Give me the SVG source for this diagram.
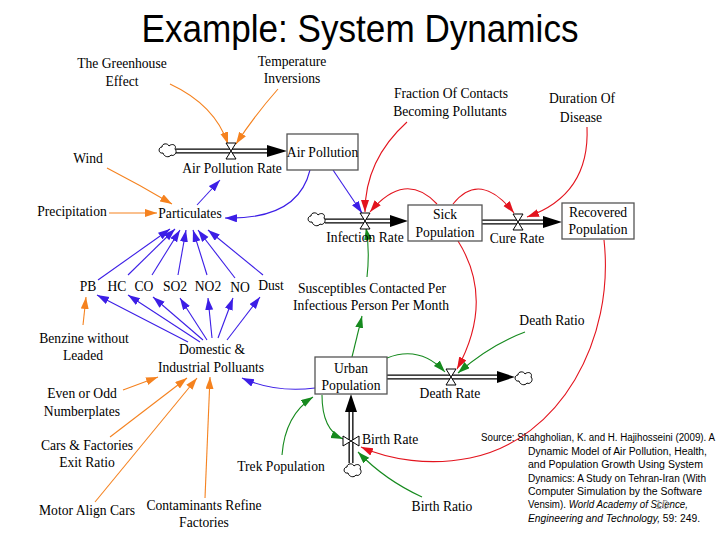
<svg xmlns="http://www.w3.org/2000/svg" width="720" height="540" viewBox="0 0 720 540">
<defs>
<style>
.t{font-family:"Liberation Serif","Times New Roman",serif;font-size:13.6px;text-anchor:middle;fill:#000}
.ttl{font-family:"Liberation Sans",Arial,sans-serif;font-size:38px;text-anchor:middle;fill:#000}
.src{font-family:"Liberation Sans",Arial,sans-serif;font-size:10px;fill:#000}
.o{fill:none;stroke:#f5821f;stroke-width:1.1;marker-end:url(#mo)}
.b{fill:none;stroke:#3c1ee6;stroke-width:1.1;marker-end:url(#mb)}
.r{fill:none;stroke:#e3141e;stroke-width:1.1;marker-end:url(#mr)}
.g{fill:none;stroke:#168a1e;stroke-width:1.1;marker-end:url(#mg)}
.box{fill:#fff;stroke:#555;stroke-width:1.3}
.po{fill:none;stroke:#000;stroke-width:5}
.pi{fill:none;stroke:#fff;stroke-width:2.4}
.valve{fill:#fff;stroke:#000;stroke-width:1}
.cloud{fill:#fff;stroke:#000;stroke-width:1}
</style>
<marker id="mo" markerUnits="userSpaceOnUse" markerWidth="13" markerHeight="9" refX="12" refY="4" orient="auto"><path d="M0,0 L12,4 L0,8 Z" fill="#f5821f"/></marker>
<marker id="mb" markerUnits="userSpaceOnUse" markerWidth="13" markerHeight="9" refX="12" refY="4" orient="auto"><path d="M0,0 L12,4 L0,8 Z" fill="#3c1ee6"/></marker>
<marker id="mr" markerUnits="userSpaceOnUse" markerWidth="13" markerHeight="9" refX="12" refY="4" orient="auto"><path d="M0,0 L12,4 L0,8 Z" fill="#e3141e"/></marker>
<marker id="mg" markerUnits="userSpaceOnUse" markerWidth="13" markerHeight="9" refX="12" refY="4" orient="auto"><path d="M0,0 L12,4 L0,8 Z" fill="#168a1e"/></marker>
<path id="cl" d="M-5,3 C-10,4 -10,-3 -6,-3 C-6,-7 0,-7 1,-4 C4,-7 9,-5 7,-1 C10,2 6,7 3,5 C1,8 -4,7 -5,3 Z"/>
<path id="vv" d="M-5,-8 L5,-8 L-5,8 L5,8 Z"/>
</defs>
<rect width="720" height="540" fill="#fff"/>
<text class="ttl" x="360" y="42" textLength="437" lengthAdjust="spacingAndGlyphs">Example: System Dynamics</text>

<g id="connectors">
<path class="o" d="M170,84 Q215,105 228,144"/>
<path class="o" d="M278,89 Q255,115 236,144"/>
<path class="o" d="M107,168 Q140,185 172,204"/>
<path class="o" d="M109,213 L157,213"/>
<path class="o" d="M83,325 L86,297"/>
<path class="o" d="M123,390 L158,377"/>
<path class="o" d="M110,437 L187,378"/>
<path class="o" d="M95,502 L197,378"/>
<path class="o" d="M205,498 L210,377"/>
<path class="b" d="M197,205 L220,180"/>
<path class="b" d="M310,170 Q298,220 225,218"/>
<path class="b" d="M333,170 L362,213"/>
<path class="b" d="M98,280 L170,229"/>
<path class="b" d="M128,275 L175,229"/>
<path class="b" d="M152,275 L180,230"/>
<path class="b" d="M178,275 L186,230"/>
<path class="b" d="M207,275 L193,230"/>
<path class="b" d="M235,278 L198,230"/>
<path class="b" d="M263,275 L208,230"/>
<path class="b" d="M188,342 L97,295"/>
<path class="b" d="M200,342 L128,295"/>
<path class="b" d="M203,340 L153,297"/>
<path class="b" d="M207,340 L180,298"/>
<path class="b" d="M212,338 L208,298"/>
<path class="b" d="M218,338 L233,298"/>
<path class="b" d="M227,340 L260,297"/>
<path class="b" d="M315,388 Q275,393 242,378"/>
<path class="r" d="M407,122 Q365,160 365,212"/>
<path class="r" d="M437,204 Q405,170 370,212"/>
<path class="r" d="M453,204 Q480,170 514,213"/>
<path class="r" d="M587,127 Q590,195 527,217"/>
<path class="r" d="M458,241 Q495,300 457,369"/>
<path class="r" d="M604,240 C615,340 560,440 470,458 C430,466 390,460 361,447"/>
<path class="g" d="M367,277 Q370,250 366,228"/>
<path class="g" d="M352,357 L362,316"/>
<path class="g" d="M387,358 Q420,345 445,372"/>
<path class="g" d="M525,332 Q490,345 458,373"/>
<path class="g" d="M322,395 Q322,430 343,439"/>
<path class="g" d="M282,455 Q285,415 313,397"/>
<path class="g" d="M422,497 Q385,480 358,452"/>
</g>

<g id="pipes">
<path class="po" d="M176,151 L269,151"/><path class="pi" d="M176,151 L268,151"/>
<polygon points="267,145 287,151 267,157" fill="#000"/>
<path class="po" d="M325,221 L392,221"/><path class="pi" d="M325,221 L391,221"/>
<polygon points="390,215 408,221 390,227" fill="#000"/>
<path class="po" d="M482,222 L545,222"/><path class="pi" d="M482,222 L544,222"/>
<polygon points="543,216 562,222 543,228" fill="#000"/>
<path class="po" d="M387,377 L499,377"/><path class="pi" d="M387,377 L498,377"/>
<polygon points="497,371 515,377 497,383" fill="#000"/>
<path class="po" d="M351,463 L351,410"/><path class="pi" d="M351,463 L351,411"/>
<polygon points="345,412 351,394 357,412" fill="#000"/>
</g>

<g id="cloud-air"><use href="#cl" class="cloud" transform="translate(168,150)"/></g>
<g id="cloud-infection"><use href="#cl" class="cloud" transform="translate(317,219)"/></g>
<g id="cloud-death"><use href="#cl" class="cloud" transform="translate(524,378)"/></g>
<g id="cloud-birth"><use href="#cl" class="cloud" transform="translate(353,470)"/></g>

<g id="air-pollution-rate"><use href="#vv" class="valve" transform="translate(231,151)"/><text class="t" x="232" y="173">Air Pollution Rate</text></g>
<g id="infection-rate"><use href="#vv" class="valve" transform="translate(365,221)"/><text class="t" x="365" y="242">Infection Rate</text></g>
<g id="cure-rate"><use href="#vv" class="valve" transform="translate(518,222)"/><text class="t" x="517" y="243">Cure Rate</text></g>
<g id="death-rate"><use href="#vv" class="valve" transform="translate(451,377)"/><text class="t" x="450" y="398">Death Rate</text></g>
<g id="birth-rate"><use href="#vv" class="valve" transform="translate(351,441) rotate(90)"/><text class="t" x="362" y="444" style="text-anchor:start">Birth Rate</text></g>

<g id="air-pollution"><rect class="box" x="287" y="134" width="71" height="36"/><text class="t" x="322.5" y="157">Air Pollution</text></g>
<g id="sick-population"><rect class="box" x="408" y="205" width="74" height="36"/><text class="t" x="445" y="219">Sick</text><text class="t" x="445" y="237">Population</text></g>
<g id="recovered-population"><rect class="box" x="562" y="203" width="72" height="36"/><text class="t" x="598" y="217">Recovered</text><text class="t" x="598" y="234">Population</text></g>
<g id="urban-population"><rect class="box" x="315" y="357" width="72" height="37"/><text class="t" x="351" y="373">Urban</text><text class="t" x="351" y="390">Population</text></g>

<g id="greenhouse"><text class="t" x="122" y="68">The Greenhouse</text><text class="t" x="122" y="86">Effect</text></g>
<g id="temperature"><text class="t" x="292" y="66">Temperature</text><text class="t" x="292" y="83">Inversions</text></g>
<g id="wind"><text class="t" x="88" y="163">Wind</text></g>
<g id="precipitation"><text class="t" x="72" y="216">Precipitation</text></g>
<g id="particulates"><text class="t" x="190" y="218">Particulates</text></g>
<g id="fraction"><text class="t" x="451" y="98">Fraction Of Contacts</text><text class="t" x="450" y="116">Becoming Pollutants</text></g>
<g id="duration"><text class="t" x="582" y="103">Duration Of</text><text class="t" x="581" y="122">Disease</text></g>
<g id="pb"><text class="t" x="88" y="291">PB</text></g>
<g id="hc"><text class="t" x="117" y="291">HC</text></g>
<g id="co"><text class="t" x="144" y="291">CO</text></g>
<g id="so2"><text class="t" x="175" y="291">SO2</text></g>
<g id="no2"><text class="t" x="208" y="291">NO2</text></g>
<g id="no"><text class="t" x="240" y="292">NO</text></g>
<g id="dust"><text class="t" x="271" y="290">Dust</text></g>
<g id="susceptibles"><text class="t" x="372" y="293">Susceptibles Contacted Per</text><text class="t" x="371" y="310">Infectious Person Per Month</text></g>
<g id="death-ratio"><text class="t" x="552" y="325">Death Ratio</text></g>
<g id="benzine"><text class="t" x="84" y="343">Benzine without</text><text class="t" x="83" y="360">Leaded</text></g>
<g id="domestic"><text class="t" x="212" y="354">Domestic &amp;</text><text class="t" x="211" y="372">Industrial Polluants</text></g>
<g id="even-odd"><text class="t" x="82" y="398">Even or Odd</text><text class="t" x="82" y="416">Numberplates</text></g>
<g id="cars-factories"><text class="t" x="87" y="450">Cars &amp; Factories</text><text class="t" x="87" y="467">Exit Ratio</text></g>
<g id="trek"><text class="t" x="281" y="471">Trek Population</text></g>
<g id="motor"><text class="t" x="87" y="515">Motor Align Cars</text></g>
<g id="contaminants"><text class="t" x="204" y="510">Contaminants Refine</text><text class="t" x="204" y="527">Factories</text></g>
<g id="birth-ratio"><text class="t" x="442" y="511">Birth Ratio</text></g>

<g id="source">
<text class="src" x="481" y="441" textLength="234" lengthAdjust="spacingAndGlyphs">Source: Shahgholian, K. and H. Hajihosseini (2009). A</text>
<text class="src" x="528" y="455" textLength="179" lengthAdjust="spacingAndGlyphs">Dynamic Model of Air Pollution, Health,</text>
<text class="src" x="528" y="468" textLength="175" lengthAdjust="spacingAndGlyphs">and Population Growth Using System</text>
<text class="src" x="528" y="482" textLength="178" lengthAdjust="spacingAndGlyphs">Dynamics: A Study on Tehran-Iran (With</text>
<text class="src" x="528" y="495" textLength="174" lengthAdjust="spacingAndGlyphs">Computer Simulation by the Software</text>
<text class="src" x="528" y="508" textLength="160" lengthAdjust="spacingAndGlyphs">Vensim). <tspan font-style="italic">World Academy of Science,</tspan></text>
<text class="src" x="528" y="522" textLength="172" lengthAdjust="spacingAndGlyphs"><tspan font-style="italic">Engineering and Technology,</tspan> 59: 249.</text>
<text x="662" y="509" style="font-family:'Liberation Sans',Arial,sans-serif;font-size:12px;fill:#a6a6a6;text-anchor:middle">10</text>
</g>
</svg>
